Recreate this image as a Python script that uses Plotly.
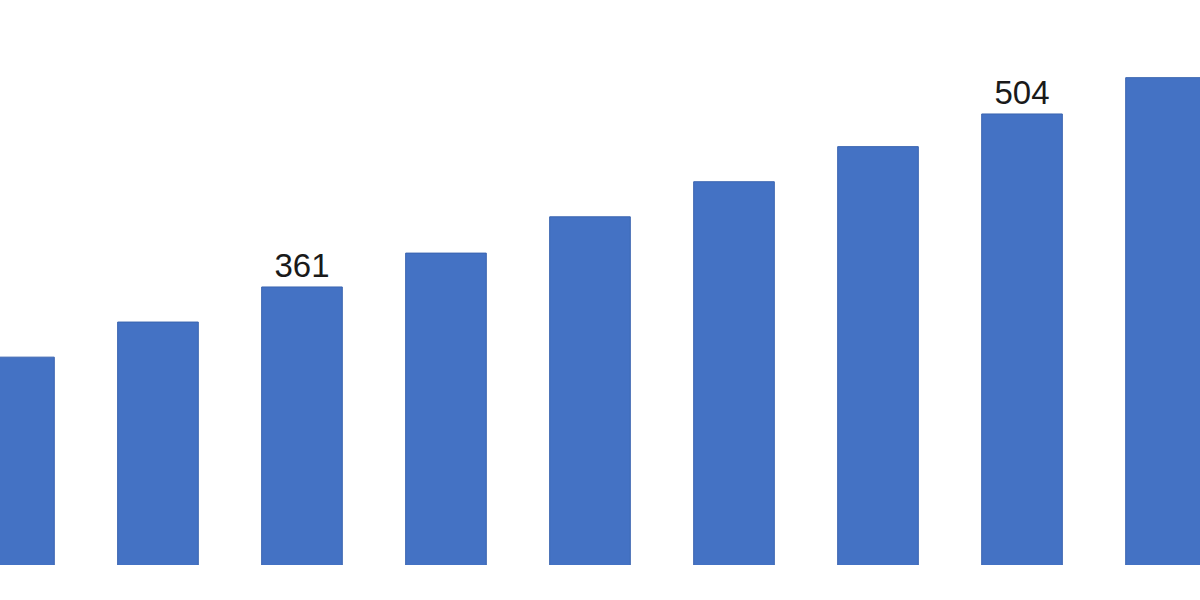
import plotly.graph_objects as go

# data (first and last bars are cut off by the crop)
periods = ["P1", "P2", "P3", "P4", "P5", "P6", "P7", "P8", "P9"]
values = [303, 332, 361, 389, 419, 448, 477, 504, 534]
labelled = ["P3", "P8"]

labels = [str(v) if p in labelled else "" for p, v in zip(periods, values)]

fig = go.Figure(go.Bar(
    x=periods,
    y=values,
    text=labels,
    textposition="outside",
    textfont=dict(family="Liberation Sans", size=33, color="#1a1a1a"),
    marker=dict(color="#4472C4", line=dict(width=1, color="#3A64B0")),
    cliponaxis=False,
))

fig.update_layout(
    width=1200,
    height=600,
    margin=dict(l=0, r=0, t=0, b=35),
    plot_bgcolor="white",
    paper_bgcolor="white",
    bargap=0.44,
    showlegend=False,
    xaxis=dict(visible=False, range=[-0.097, 8.236]),
    yaxis=dict(visible=False, range=[131.2, 598.2]),
)

# drop the default 8px body margin so the figure fills the window
fig.write_html(
    "out.html",
    config={"displayModeBar": False},
    post_script="document.body.style.margin='0';",
)
